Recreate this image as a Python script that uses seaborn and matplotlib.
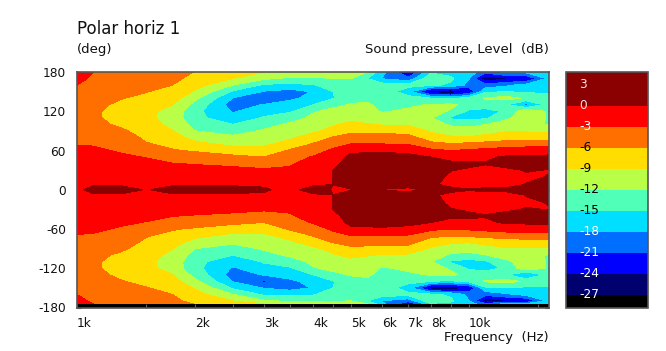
import numpy as np
import pandas as pd
import matplotlib
matplotlib.use("Agg")
import matplotlib.pyplot as plt
from matplotlib.colors import ListedColormap, BoundaryNorm
from matplotlib.cm import ScalarMappable
import seaborn as sns

# angle rows of the upper half, the lower half reads the same
angles = [180, 170, 160, 150, 140, 130, 120, 110, 100, 90, 80, 70, 60, 50, 40, 30, 20, 8, 0]
freqs = [1000, 1100, 1300, 1500, 1750, 2000, 2500, 3000, 3500, 4000, 4500, 5000, 5500,
         6000, 7000, 8000, 9000, 10000, 11000, 12500, 14000, 16000]

spl_1000 = [-1, -2, -3, -4, -4.5, -5, -5.3, -5.4, -5.2, -4.8, -4, -3.1, -2.5, -2, -1.6, -1.2, -0.9, -0.6, -0.4]
spl_1100 = [-3, -3.6, -4.2, -4.7, -5.1, -5.4, -5.6, -5.6, -5.3, -4.8, -4.1, -3.2, -2.6, -2, -1.5, -1.1, -0.8, -0.2, 0.6]
spl_1300 = [-3.8, -4.2, -4.7, -5.3, -5.9, -6.5, -7, -7, -6.5, -5.6, -4.8, -4, -3.3, -2.6, -1.8, -1.2, -0.7, -0.2, 0.6]
spl_1500 = [-4.5, -4.8, -5.3, -5.9, -6.6, -7.5, -8.2, -8.3, -7.8, -7.2, -6.5, -5.8, -4.5, -3.1, -2.3, -1.5, -0.9, -0.5, -0.1]
spl_1750 = [-5, -5.4, -6, -6.8, -7.8, -8.9, -10.1, -10.2, -9.8, -8.9, -7.9, -6.7, -5.8, -4.2, -2.9, -1.8, -1.1, -0.2, 0.6]
spl_2000 = [-6.1, -6.8, -7.9, -9.3, -11.3, -13, -14.2, -14.2, -13.2, -12, -10, -8.3, -6.3, -4.7, -3.2, -1.9, -1.1, -0.2, 0.6]
spl_2500 = [-7.3, -9, -12, -15.5, -18.2, -19.5, -18.3, -17, -15, -13, -11.5, -9.7, -7.8, -5.2, -3.7, -2.2, -1.2, -0.2, 0.6]
spl_3000 = [-9, -11.5, -15.5, -18.2, -21.5, -17.8, -16.2, -14.7, -12.8, -11.7, -10.6, -9.5, -8, -6, -4, -2.7, -1.3, -0.15, 0.15]
spl_3500 = [-10, -12.5, -15.8, -19.2, -18.6, -16.8, -15.4, -13, -11.6, -10.5, -9.4, -8, -5.6, -4.1, -3.3, -2.6, -1, -0.2, -0.4]
spl_4000 = [-10.5, -12.2, -15.3, -17.8, -17, -15, -12.2, -11.5, -10.8, -9.5, -7.8, -5.8, -4.3, -2.8, -1.8, -1, -0.6, -0.2, 0.6]
spl_4500 = [-10.5, -12.1, -13.2, -15, -15.2, -12.6, -11.4, -10.6, -9.3, -8.2, -5.8, -4, -2.5, -1.7, -0.8, 0.01, 0.01, 0.01, -0.1]
spl_5000 = [-10.3, -12, -13, -14.9, -13, -11.8, -10.8, -9.9, -8.3, -6.7, -4.8, -3, -0.7, 0.9, 1.3, 1.5, 1.2, 0.6, -0.1]
spl_5500 = [-12, -15, -13.6, -12.8, -12.3, -11.8, -11.3, -10.4, -8.8, -6.9, -4.7, -3, -0.5, 1, 1.5, 1.6, 1.3, 0.8, 0.6]
spl_6000 = [-17, -18.2, -13.5, -12.8, -12.5, -12.4, -12.2, -11, -9.3, -6.9, -4.7, -3, -0.4, 1.1, 1.6, 1.7, 1.3, 0.9, -0.1]
spl_7000 = [-24.5, -20, -14, -17, -13.8, -12.4, -11.6, -10.5, -9.4, -7.2, -5, -3.2, -0.8, 0.8, 1.4, 1.6, 1.5, 0.9, -0.5]
spl_8000 = [-15.5, -12.5, -14.5, -26, -15, -11.8, -11, -11.8, -10.5, -9.4, -7.7, -5.2, -2.4, 0, 1.1, 1.3, 1, 0.3, 0.5]
spl_9000 = [-16, -14.5, -15.5, -27, -15.5, -11.5, -12.3, -15.5, -12.5, -10.5, -8.6, -5.8, -3, -1, 0.6, 0.1, -0.5, -0.5, 0.5]
spl_10000 = [-16.5, -17.9, -19, -24, -14, -13, -15.5, -16, -13, -10.6, -8.8, -5.4, -2.6, -0.9, 0.5, -0.3, -0.6, -0.6, 0.1]
spl_11000 = [-20, -26.5, -20, -15.5, -11.7, -13.5, -16, -15.5, -12.1, -10, -8.3, -5, -2.2, -0.5, 0.2, -0.8, -1, -0.8, 0.5]
spl_12500 = [-17, -24.5, -18.5, -15, -11, -14.9, -14.5, -12.5, -10.8, -9.2, -7.6, -4.4, -1.8, 0.4, 1, -0.5, -0.8, -0.8, 0.6]
spl_14000 = [-17, -24, -17, -15.5, -12.5, -19, -9.5, -10.6, -11.2, -9.3, -7.5, -4.2, -1.6, 0.5, 1.2, 0.2, -0.4, 0.1, 0.5]
spl_16000 = [-16, -17, -16, -15.4, -14, -13.5, -12.5, -12.3, -12.2, -9.5, -7.5, -4.2, -1.5, 0.7, 1.2, -0.1, 0.1, 0.8, 0.8]

levels = [-27, -24, -21, -18, -15, -12, -9, -6, -3, 0]
band_colors = ["#000000", "#00006F", "#0000FF", "#006FFF", "#00DFFF", "#50FFB8",
               "#B9FF47", "#FFDD00", "#FF6F00", "#FF0000", "#8B0000"]
cbar_ticks = [3, 0, -3, -6, -9, -12, -15, -18, -21, -24, -27]
cbar_text = ["#FFE0E0", "#FFE0E0", "white", "black", "black", "black", "black", "white", "white", "white", "white"]
x_ticks = [1000, 1500, 2000, 2500, 3000, 3500, 4000, 4500, 5000, 6000, 7000, 8000, 9000, 10000, 15000]
x_labels = {1000: "1k", 2000: "2k", 3000: "3k", 4000: "4k", 5000: "5k", 6000: "6k", 7000: "7k", 8000: "8k", 10000: "10k"}
y_labels = [180, 120, 60, 0, -60, -120, -180]

upper = pd.DataFrame(
    np.column_stack([spl_1000, spl_1100, spl_1300, spl_1500, spl_1750, spl_2000, spl_2500, spl_3000,
                     spl_3500, spl_4000, spl_4500, spl_5000, spl_5500, spl_6000, spl_7000, spl_8000,
                     spl_9000, spl_10000, spl_11000, spl_12500, spl_14000, spl_16000]),
    index=angles, columns=freqs)
lower = upper.iloc[-2::-1].copy()
lower.index = [-a for a in lower.index[:-1]] + [-174.5]  # last row stops at the black edge
grid = pd.concat([upper, lower])

sns.set_style("white")
plt.rcParams["font.family"] = ["DejaVu Sans"]
plt.rcParams["font.size"] = 8.7
W, H = 666, 351
fig = plt.figure(figsize=(W / 100, H / 100), dpi=100)
ax = fig.add_axes([77 / W, 1 - 307.5 / H, 472 / W, 235.5 / H])
cax = fig.add_axes([566 / W, 1 - 307.5 / H, 82 / W, 235.5 / H])

cmap = ListedColormap(band_colors)
bounds = [-40] + levels + [40]
norm = BoundaryNorm(bounds, cmap.N)

ax.set_facecolor("black")
ax.contourf(grid.columns, grid.index, grid.values, levels=bounds, cmap=cmap, norm=norm, antialiased=False)
ax.set_xscale("log")
ax.set_xlim(1000, 16000)
ax.set_ylim(-180, 180)

ax.minorticks_off()
ax.set_xticks(x_ticks)
ax.set_xticklabels([x_labels.get(t, "") for t in x_ticks], ha="left", color="#111111")
ax.set_yticks(range(-180, 181, 30))
ax.set_yticklabels([str(t) if t in y_labels else "" for t in range(-180, 181, 30)], color="#111111")
ax.tick_params(axis="both", which="both", direction="in", length=3.2, width=0.8, color="#606060",
               top=True, right=True, bottom=True, left=True, pad=7)
ax.tick_params(axis="y", pad=8)
for s in ax.spines.values():
    s.set_color("#555555")
    s.set_linewidth(1.2)

cb = fig.colorbar(ScalarMappable(norm=BoundaryNorm([-28.86] + levels + [4.86], cmap.N), cmap=cmap),
                  cax=cax, spacing="proportional", drawedges=False)
cb.minorticks_off()
cb.set_ticks(cbar_ticks)
cb.set_ticklabels([])
cax.yaxis.set_ticks_position("left")
cax.tick_params(axis="y", which="both", direction="in", length=3.2, width=0.8, color="#707070")
cax.tick_params(axis="x", which="both", length=0)
cb.outline.set_edgecolor("#555555")
cb.outline.set_linewidth(1.2)
for val, col in zip(cbar_ticks, cbar_text):
    cax.annotate(str(val), xy=(0, val), xycoords=cax.get_yaxis_transform(), xytext=(13, 0),
                 textcoords="offset pixels", color=col, va="center", ha="left")

fig.text(77 / W, 1 - 29 / H, "Polar horiz 1", fontsize=12, va="center", ha="left", color="#111111")
fig.text(77 / W, 1 - 50 / H, "(deg)", fontsize=9.5, va="center", ha="left", color="#111111")
fig.text(549 / W, 1 - 50 / H, "Sound pressure, Level  (dB)", fontsize=9.5, va="center", ha="right", color="#111111")
fig.text(549 / W, 1 - 338 / H, "Frequency  (Hz)", fontsize=9.5, va="center", ha="right", color="#111111")

fig.savefig("out.png", dpi=100)
